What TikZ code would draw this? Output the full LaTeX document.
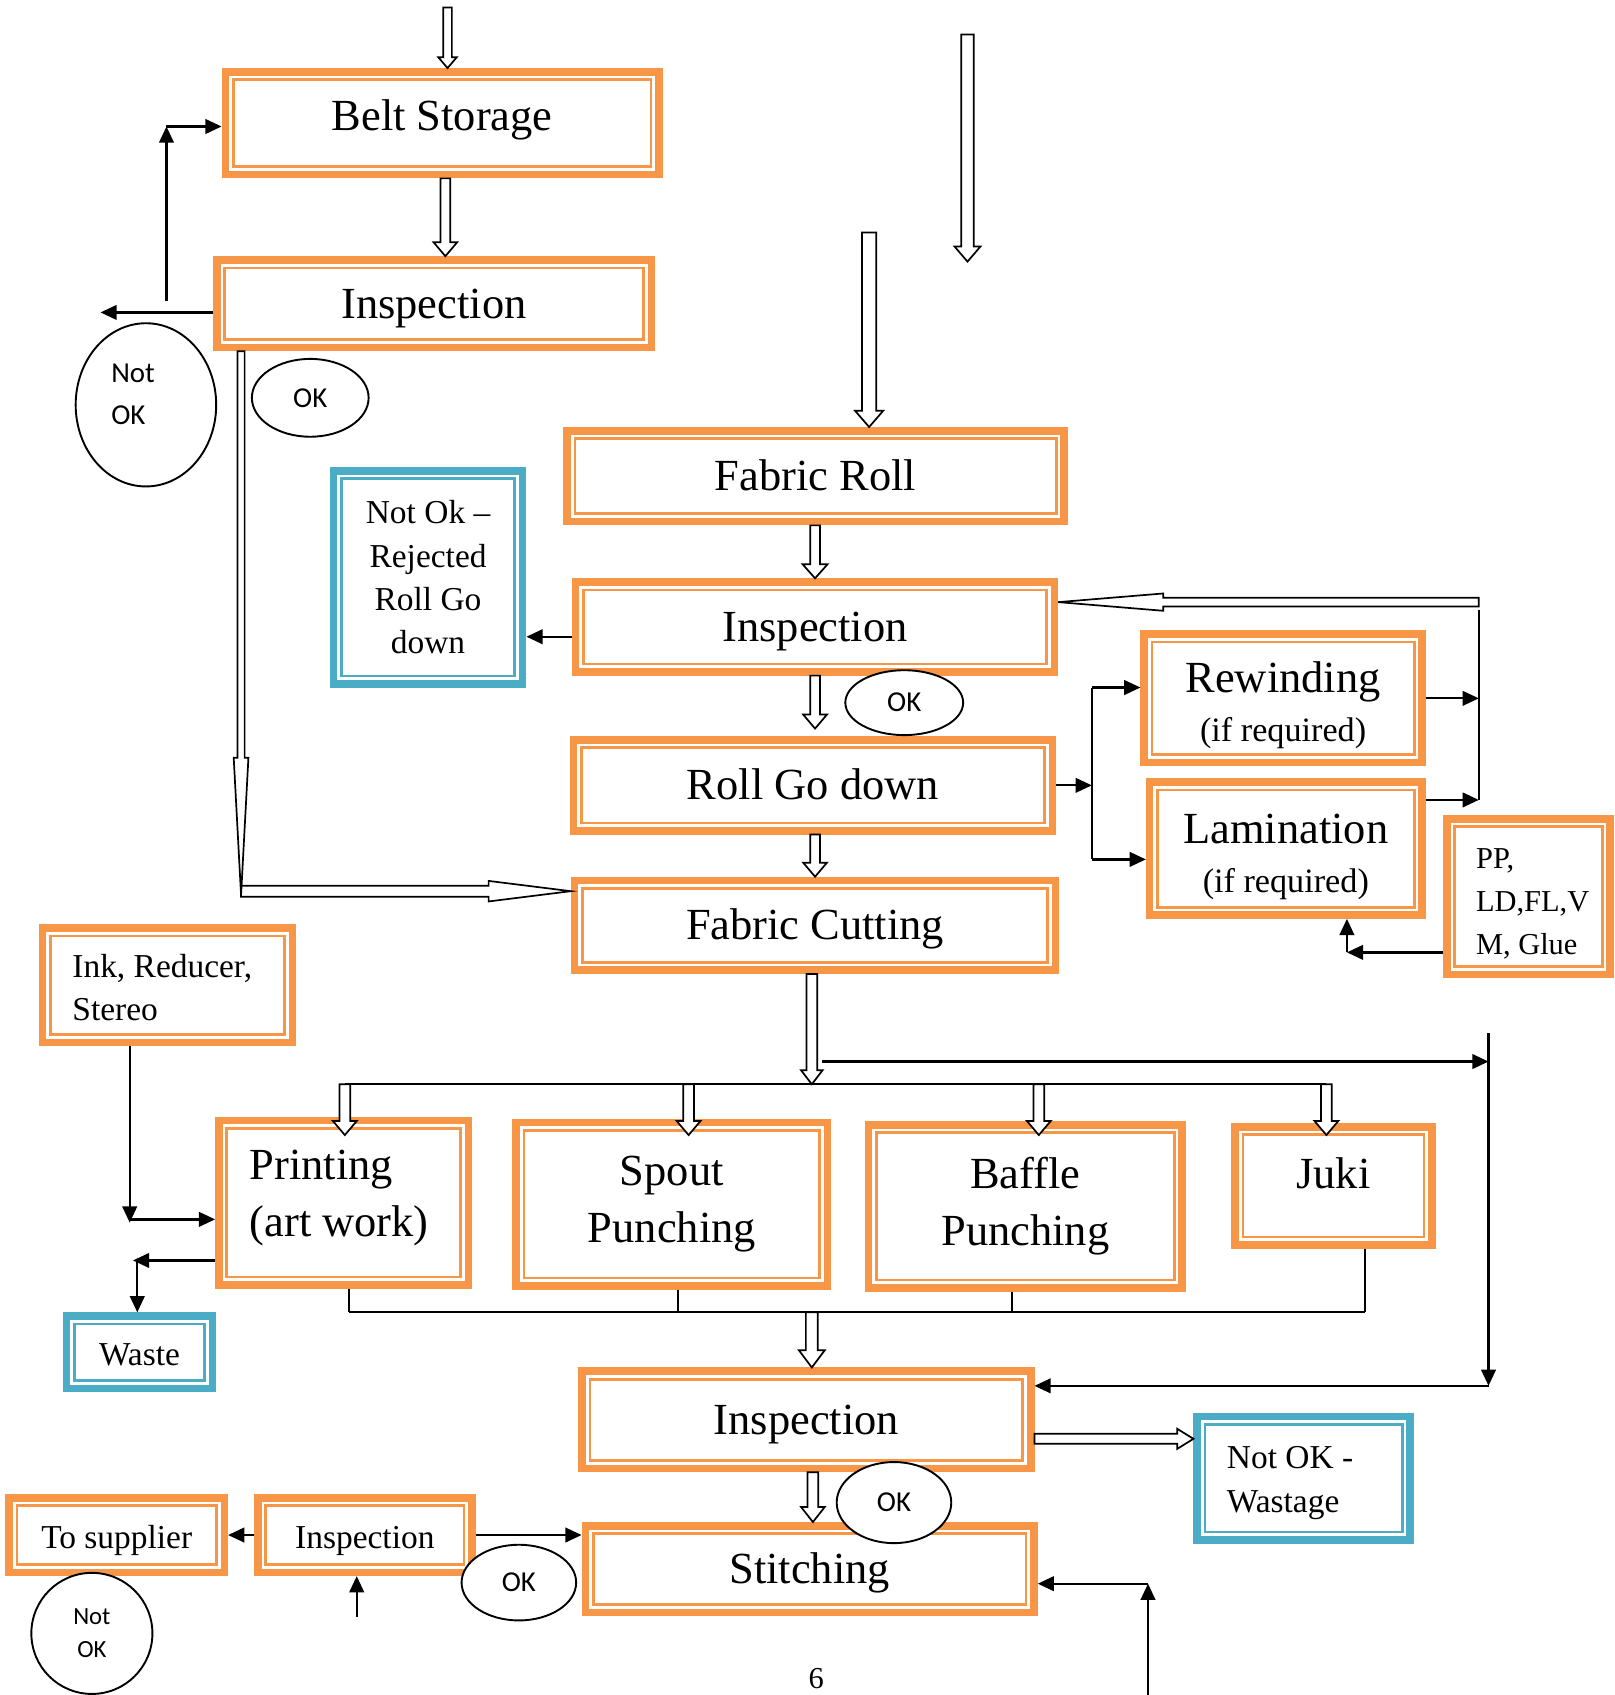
\documentclass[tikz,border=0pt]{standalone}
\usepackage{fontspec}
\setmainfont{Liberation Serif}
\newfontfamily\okfont{Carlito}
\usetikzlibrary{shapes.geometric, arrows.meta, positioning, calc}

\definecolor{bagorange}{HTML}{F79646}
\definecolor{bagteal}{HTML}{4BACC6}

\newcommand{\bigtxt}{\fontsize{11.7}{15}\selectfont}
\newcommand{\midtxt}{\fontsize{9}{11}\selectfont}
\newcommand{\smalltxt}{\fontsize{8.8}{11.4}\selectfont}
\newcommand{\oktxt}{\okfont\fontsize{7.6}{11.1}\selectfont}
\newcommand{\minitxt}{\okfont\fontsize{6.5}{8.8}\selectfont}

% hollow block arrow: start, tip, half shaft, half head, head length
\newcommand{\hollowarrow}[5]{%
  \coordinate (hbase) at ($(#2)!#5!(#1)$);
  \draw[bagblock] ($(#1)!#3!90:(#2)$) -- ($(hbase)!#3!90:(#2)$)
    -- ($(hbase)!#4!90:(#2)$) -- (#2) -- ($(hbase)!#4!-90:(#2)$)
    -- ($(hbase)!#3!-90:(#2)$) -- ($(#1)!#3!-90:(#2)$) -- cycle;}

\tikzset{
  bagframe/.style={rectangle, draw=#1, line width=0.7mm, inner sep=1mm, align=center,
    append after command={\pgfextra{\draw[draw=#1, line width=0.25mm, fill=none]
      ([shift={(1.08mm,-1.08mm)}]\tikzlastnode.north west) rectangle
      ([shift={(-1.08mm,1.08mm)}]\tikzlastnode.south east);}}},
  bagstep/.style={bagframe=bagorange, font=\bigtxt},
  bagone/.style={bagstep, text height=3.6mm, text depth=0.9mm},
  bagsupply/.style={bagframe=bagorange, font=\smalltxt},
  bagsmallone/.style={text height=2.9mm, text depth=0.45mm},
  bagreject/.style={bagframe=bagteal, font=\smalltxt},
  bagok/.style={ellipse, draw, line width=0.5pt, fill=white, inner sep=0pt,
                align=center, font=\oktxt},
  bagarrow/.style={-{Triangle[length=1.5mm, width=1.35mm]}, line width=0.6pt},
  bagline/.style={line width=0.6pt},
  bagblock/.style={draw, line width=0.45pt, fill=white, line join=miter},
}

\begin{document}
\begin{tikzpicture}[x=0.1mm, y=-0.1mm]
  \useasboundingbox (0,0) rectangle (1494,1568);

  % Belt side
  \node[bagstep, minimum width=40.1mm, minimum height=9.5mm, text height=3mm, text depth=1.7mm] (belt) at (409,114) {Belt Storage};
  \node[bagone, minimum width=40.2mm, minimum height=8.1mm] (insp1) at (401.5,281) {Inspection};

  % Fabric side
  \node[bagone, minimum width=46mm, minimum height=8.4mm] (fabric) at (754.5,440.5) {Fabric Roll};
  \node[bagone, minimum width=44.3mm, minimum height=8.3mm] (insp2) at (754,580) {Inspection};
  \node[bagreject, minimum width=17.5mm, minimum height=19.7mm] (reject) at (396,534)
    {Not Ok –\\Rejected\\Roll Go\\down};
  \node[bagone, minimum width=44.3mm, minimum height=8.4mm] (roll) at (752,726.5) {Roll Go down};
  \node[bagone, minimum width=44.5mm, minimum height=8.3mm] (cutting) at (754,856) {Fabric Cutting};
  \node[bagstep, minimum width=25.7mm, minimum height=11.9mm] (rewind) at (1187,646)
    {\rule{0pt}{4.2mm}Rewinding\\[-2.1pt]{\midtxt (if required)}};
  \node[bagstep, minimum width=25.2mm, minimum height=12.3mm] (lamin) at (1189.5,785)
    {\rule{0pt}{4.2mm}Lamination\\[-2.1pt]{\midtxt (if required)}};
  \node[bagsupply, minimum width=15.1mm, minimum height=14.4mm, align=flush left, text width=9.7mm,
        font=\fontsize{8}{11.4}\selectfont] (pp) at (1414,829.5) {\rule{0pt}{3.2mm}PP,\\LD,FL,V\\M, Glue};

  % Converting
  \node[bagsupply, minimum width=23.1mm, minimum height=10.6mm, align=flush left, text width=17.6mm] (ink) at (155,911.5)
    {\rule{0pt}{2.6mm}Ink, Reducer,\\Stereo};
  \node[bagstep, minimum width=23.1mm, minimum height=15.2mm, align=flush left, text width=17.4mm] (print) at (318,1112.5)
    {Printing\\(art work)\rule[-1.7mm]{0pt}{0pt}};
  \node[bagstep, minimum width=28.8mm, minimum height=15.1mm] (spout) at (621.5,1114) {Spout\\Punching};
  \node[bagstep, minimum width=29mm, minimum height=15.1mm] (baffle) at (948.5,1116) {Baffle\\Punching};
  \node[bagstep, minimum width=18.2mm, minimum height=10.9mm, text height=2.8mm, text depth=2.4mm] (juki) at (1233.5,1097) {Juki};
  \node[bagreject, bagsmallone, minimum width=13.5mm, minimum height=6.7mm] (waste) at (129,1251) {Waste};

  % Final stage
  \node[bagone, minimum width=41.5mm, minimum height=9mm] (insp3) at (746,1313.5) {Inspection};
  \node[bagreject, minimum width=19.7mm, minimum height=11.4mm, align=flush left, text width=14.2mm] (wastage) at (1206,1367.5)
    {\rule{0pt}{2.9mm}Not OK -\\Wastage};
  \node[bagsupply, bagsmallone, minimum width=19.9mm, minimum height=6.9mm] (supplier) at (108,1420) {To supplier};
  \node[bagsupply, bagsmallone, minimum width=19.8mm, minimum height=6.9mm] (insp4) at (337.5,1420) {Inspection};
  \node[bagone, minimum width=41.5mm, minimum height=8mm] (stitch) at (749,1451.5) {Stitching};

  % Lanes and free ends
  \coordinate (feedIn) at (414,7);
  \coordinate (beltLane) at (412,0);
  \coordinate (spareTop) at (895,32);
  \coordinate (spareEnd) at (895,242);
  \coordinate (fabricIn) at (804,215);
  \coordinate (midLane) at (754,0);
  \coordinate (rollIn) at (754,674);
  \coordinate (okLane) at (223,0);
  \coordinate (bendTip) at (223,828);
  \coordinate (bend) at (223,824.4);
  \coordinate (loopTop) at (1368,557);
  \coordinate (loopBot) at (1368,740);
  \coordinate (forkTop) at (1010,636);
  \coordinate (forkBot) at (1010,795);
  \coordinate (ppTurn) at (1246,881);
  \coordinate (split) at (751,1003);
  \coordinate (dropRow) at (0,1050);
  \coordinate (printLane) at (319,0);
  \coordinate (spoutLane) at (637,0);
  \coordinate (baffleLane) at (961,0);
  \coordinate (jukiLane) at (1227,0);
  \coordinate (merge) at (751,1214);
  \coordinate (printOut) at (323,1214);
  \coordinate (spoutOut) at (627,1214);
  \coordinate (baffleOut) at (936,1214);
  \coordinate (jukiOut) at (1263,1214);
  \coordinate (stitchLane) at (752,0);
  \coordinate (wasteRow) at (0,1331);
  \coordinate (nokOut) at (93,289);
  \coordinate (retBot) at (154,278);
  \coordinate (retTop) at (154,117);
  \coordinate (rejRow) at (0,589);
  \coordinate (inkDown) at (120,1131);
  \coordinate (inkTurn) at (120,1128);
  \coordinate (wasteTurn) at (123,1166);
  \coordinate (wasteDrop) at (127,1167);
  \coordinate (bypassStart) at (760,982);
  \coordinate (bypassCorner) at (1377,982);
  \coordinate (bypassTop) at (1377,956);
  \coordinate (bypassBot) at (1377,1282);
  \coordinate (insp4Feed) at (330,1496);
  \coordinate (stitchFeed) at (1062,1568);
  \coordinate (stitchTurn) at (1062,1465);

  % Thin connectors
  \draw[bagarrow] (insp1.west |- nokOut) -- (nokOut);
  \draw[bagarrow] (retBot) -- (retTop);
  \draw[bagarrow] (retTop) -- (belt.west |- retTop);
  \draw[bagarrow] (insp2.west |- rejRow) -- (reject.east |- rejRow);
  \draw[bagarrow] (roll.east) -- (roll.east -| forkTop);
  \draw[bagline] (forkTop) -- (forkBot);
  \draw[bagarrow] (forkTop) -- (forkTop -| rewind.west);
  \draw[bagarrow] (forkBot) -- (forkBot -| lamin.west);
  \draw[bagarrow] (rewind.east) -- (rewind.east -| loopBot);
  \draw[bagarrow] (lamin.east |- loopBot) -- (loopBot);
  \draw[bagline] ([yshift=-0.7mm]loopTop) -- (loopBot);
  \draw[bagarrow] (pp.west |- ppTurn) -- (ppTurn);
  \draw[bagarrow] (ppTurn) -- (lamin.south -| ppTurn);
  \draw[bagarrow] (ink.south -| inkDown) -- (inkDown);
  \draw[bagarrow] (inkTurn) -- (print.west |- inkTurn);
  \draw[bagarrow] (print.west |- wasteTurn) -- (wasteTurn);
  \draw[bagarrow] (wasteDrop) -- (waste.north -| wasteDrop);
  \draw[bagline] (split -| printLane) -- (split -| jukiLane);
  \draw[bagline] (printOut) -- (jukiOut);
  \draw[bagline] (print.south -| printOut) -- (printOut);
  \draw[bagline] (spout.south -| spoutOut) -- (spoutOut);
  \draw[bagline] (baffle.south -| baffleOut) -- (baffleOut);
  \draw[bagline] (juki.south -| jukiOut) -- (jukiOut);
  \draw[bagarrow] (bypassStart) -- (bypassCorner);
  \draw[bagarrow] (bypassTop) -- (bypassBot);
  \draw[bagarrow] (bypassBot) -- (insp3.east |- bypassBot);
  \draw[bagarrow] (insp4.west) -- (supplier.east);
  \draw[bagarrow] (insp4.east) -- (stitch.west |- insp4.east);
  \draw[bagarrow] (insp4Feed) -- (insp4.south -| insp4Feed);
  \draw[bagarrow] (stitchFeed) -- (stitchTurn);
  \draw[bagarrow] (stitchTurn) -- (stitch.east |- stitchTurn);

  % Hollow arrows
  \hollowarrow{feedIn}{belt.north -| feedIn}{0.4mm}{0.85mm}{1mm}
  \hollowarrow{belt.south -| beltLane}{insp1.north -| beltLane}{0.45mm}{1.1mm}{1.3mm}
  \hollowarrow{spareTop}{spareEnd}{0.58mm}{1.2mm}{1.4mm}
  \hollowarrow{fabricIn}{fabric.north -| fabricIn}{0.65mm}{1.3mm}{1.5mm}
  \hollowarrow{fabric.south -| midLane}{insp2.north -| midLane}{0.45mm}{1.15mm}{1.3mm}
  \hollowarrow{insp2.south -| midLane}{rollIn}{0.45mm}{1.1mm}{1.3mm}
  \hollowarrow{roll.south -| midLane}{cutting.north -| midLane}{0.45mm}{1.1mm}{1.3mm}
  \hollowarrow{bend}{cutting.west |- bend}{0.51mm}{0.95mm}{7.6mm}
  \hollowarrow{insp1.south -| okLane}{bendTip}{0.33mm}{0.68mm}{12.7mm}
  \hollowarrow{loopTop}{insp2.east |- loopTop}{0.4mm}{0.8mm}{9.7mm}
  \hollowarrow{cutting.south -| split}{split}{0.5mm}{1mm}{1.3mm}
  \foreach \lane in {printLane, spoutLane, baffleLane, jukiLane}{
    \hollowarrow{split -| \lane}{dropRow -| \lane}{0.5mm}{1.1mm}{1.3mm}
  }
  \hollowarrow{merge}{insp3.north -| merge}{0.55mm}{1.2mm}{1.6mm}
  \hollowarrow{insp3.south -| stitchLane}{stitch.north -| stitchLane}{0.5mm}{1.1mm}{1.4mm}
  \hollowarrow{insp3.east |- wasteRow}{wastage.west |- wasteRow}{0.46mm}{0.93mm}{1.5mm}

  % OK / Not OK marks
  \node[bagok, minimum width=13mm, minimum height=15.1mm, align=flush left, text width=6.4mm, text depth=5.8mm] (nok1) at (135,374.5) {Not\\OK};
  \node[bagok, minimum width=10.8mm, minimum height=7.2mm] (ok1) at (287,368) {OK};
  \node[bagok, minimum width=10.9mm, minimum height=6mm] (ok2) at (836.5,650) {OK};
  \node[bagok, minimum width=10.6mm, minimum height=7.5mm] (ok3) at (827,1390) {OK};
  \node[bagok, minimum width=10.6mm, minimum height=7mm] (ok4) at (480,1464) {OK};
  \node[bagok, minimum width=11.2mm, minimum height=11.2mm, font=\minitxt] (nok2) at (85,1511) {Not\\OK};

  \node[font=\fontsize{8}{10}\selectfont] (pagenum) at (755,1553) {6};
\end{tikzpicture}
\end{document}
